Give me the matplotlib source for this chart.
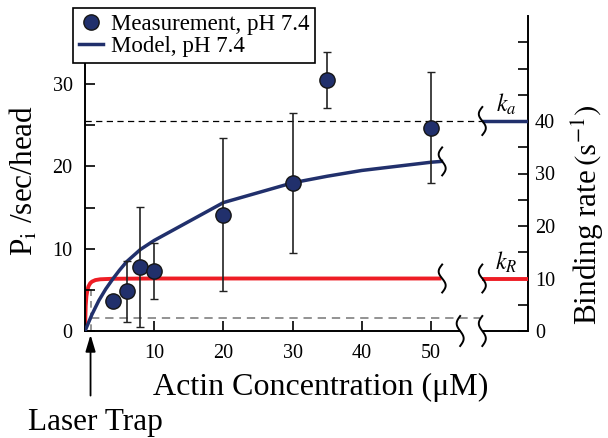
import matplotlib
matplotlib.use('Agg')
import matplotlib.pyplot as plt
import numpy as np
from matplotlib.transforms import IdentityTransform
from matplotlib.lines import Line2D

plt.rcParams['font.family'] = ['Liberation Serif', 'DejaVu Serif']
plt.rcParams['mathtext.fontset'] = 'stix'

# ---------------- data ----------------
actin_meas = [4, 6, 8, 10, 20, 30, 35, 50]
rate_meas = [3.6, 4.8, 7.8, 7.3, 14.1, 18.0, 30.5, 24.7]
rate_err = [0.0, 3.7, 7.3, 3.4, 9.3, 8.5, 3.4, 6.7]

actin_model = [0, 1, 2, 3, 4, 5, 6, 8, 10, 20, 30, 35, 40, 50, 51.5]
rate_model = [0, 2.0, 3.7, 5.1, 6.3, 7.4, 8.4, 9.9, 11.0, 15.6, 18.0, 18.8, 19.5, 20.5, 20.6]

actin_kr = [0, 0.05, 0.1, 0.2, 0.35, 0.5, 0.75, 1.0, 1.5, 2.2, 4, 10, 51.5]
binding_kr = [0, 2.5, 4.8, 6.6, 7.8, 8.5, 9.1, 9.4, 9.7, 9.85, 9.95, 10, 10]

k_a = 40
k_R = 10
trap_actin = 0.9
trap_rate = 2.5
trap_top = 9.0

x_ticks = [10, 20, 30, 40, 50]
left_ticks = [0, 10, 20, 30]
right_ticks = [0, 10, 20, 30, 40]

navy = '#21306c'
red = '#ee1d25'

# ---------------- figure ----------------
fig = plt.figure(figsize=(6.08, 4.38), dpi=100)
ax = fig.add_axes([85 / 608, 107 / 438, 443 / 608, 315 / 438])
ax2 = ax.twinx()
ax.set_zorder(2)
ax.patch.set_visible(False)

ax.set_xlim(0, 64)
ax.set_ylim(0, 38.26)
ax2.set_ylim(0, 60)

x_break1, x_break2, x_break3 = 51.6, 54.2, 57.4

# right-axis (binding rate) curves
ax2.plot(actin_kr, binding_kr, color=red, lw=2.8, solid_capstyle='butt', zorder=3)
ax2.plot([x_break3, 64], [k_R, k_R], color=red, lw=2.8, solid_capstyle='butt', zorder=3)
ax2.plot([x_break3, 64], [k_a, k_a], color=navy, lw=2.5, solid_capstyle='butt', zorder=3)
ax2.plot([0, x_break3], [k_a, k_a], color='k', lw=0.9, dashes=(5, 3.5), zorder=2)
ax2.plot([trap_actin, x_break3 - 0.3], [trap_rate, trap_rate], color='#808080', lw=1.2,
         dashes=(5, 3.5), zorder=2)
ax2.plot([trap_actin, trap_actin], [0, trap_top], color='#808080', lw=1.2,
         dashes=(4, 3), zorder=2)

# left-axis curves
ax.plot(actin_model, rate_model, color=navy, lw=2.5, zorder=3)
ax.errorbar(actin_meas, rate_meas, yerr=rate_err, fmt='o', ms=11, mfc=navy, mec='#151515',
            mew=1.0, ecolor='#222222', elinewidth=1.2, capsize=3, capthick=1.2, zorder=4)

# spines
for s in ['top', 'right']:
    ax.spines[s].set_visible(False)
for s in ['top', 'left', 'bottom']:
    ax2.spines[s].set_visible(False)
for sp in [ax.spines['left'], ax.spines['bottom'], ax2.spines['right']]:
    sp.set_linewidth(1.4)
ax.spines['bottom'].set_bounds(0, x_break2)
ax.plot([x_break3, 64], [0, 0], color='k', lw=1.4, clip_on=False, zorder=5,
        solid_capstyle='butt')

# ticks
ax.set_xticks(x_ticks)
ax.set_xticklabels([str(v) for v in x_ticks])
ax.set_yticks(left_ticks)
ax.set_yticks([5, 15, 25, 35], minor=True)
ax.set_xticks([], minor=True)
ax.tick_params(axis='x', direction='in', length=7, width=1.2, pad=9, labelsize=14.5)
ax.tick_params(axis='y', which='both', direction='in', length=7, width=1.2, pad=9,
               labelsize=14.5)
ax2.set_yticks(right_ticks)
ax2.set_yticks([5, 15, 25, 35, 45, 50, 55], minor=True)
ax2.tick_params(axis='y', which='both', direction='in', length=7, width=1.2, pad=5,
                labelsize=14.5)

# labels
fig.text(321 / 608, 1 - 395 / 438, 'Actin Concentration (μM)', ha='center',
         va='baseline', fontsize=23)
fig.text(33 / 608, 1 - 180 / 438, r'P$_{\rm i}$ /sec/head', rotation=90,
         rotation_mode='anchor', ha='center', va='baseline', fontsize=22.5)
fig.text(598 / 608, 1 - 215 / 438, r'Binding rate$\,(\mathrm{s}^{-1})$', rotation=90,
         rotation_mode='anchor', ha='center', va='baseline', fontsize=22.5)

ax2.text(60.8, 40.7, r'$k_a$', ha='center', va='bottom', fontsize=17)
ax2.text(60.8, 10.7, r'$k_R$', ha='center', va='bottom', fontsize=17)

# laser trap arrow
ax.annotate('', xy=(trap_actin - 0.1, -0.012), xycoords=ax.get_xaxis_transform(),
            xytext=(trap_actin - 0.1, -0.205), textcoords=ax.get_xaxis_transform(),
            arrowprops=dict(arrowstyle='-|>,head_length=1.0,head_width=0.3', color='k',
                            lw=1.3, shrinkA=0, shrinkB=0),
            annotation_clip=False)
fig.text(95 / 608, 1 - 430 / 438, 'Laser Trap', ha='center', va='baseline', fontsize=22.5)

# legend
h_meas = Line2D([], [], marker='o', ls='none', ms=11, mfc=navy, mec='#151515', mew=1.0)
h_model = Line2D([], [], color=navy, lw=2.5)
leg = fig.legend([h_meas, h_model], ['Measurement, pH 7.4', 'Model, pH 7.4'],
                 loc='upper left', bbox_to_anchor=(73 / 608, 1 - 8 / 438),
                 bbox_transform=fig.transFigure, fontsize=16.5, frameon=True,
                 fancybox=False, framealpha=1, edgecolor='k', borderpad=0.25,
                 handlelength=1.05, handletextpad=0.35, labelspacing=0.05,
                 borderaxespad=0)
leg.get_frame().set_linewidth(1.2)


# axis-break squiggles
def squiggle(axis, x, y, h=14, a=3.5):
    t = np.linspace(0, 1, 80)
    X0, Y0 = axis.transData.transform((x, y))
    xs = X0 + a * np.sin(2 * np.pi * t)
    ys = Y0 - h + 2 * h * t
    fig.add_artist(Line2D(xs, ys, transform=IdentityTransform(), color='k', lw=1.4,
                          zorder=6))


squiggle(ax, x_break1, rate_model[-1])
squiggle(ax2, x_break1, binding_kr[-1])
squiggle(ax2, x_break3, k_R)
squiggle(ax2, x_break3, k_a)
squiggle(ax, x_break2, 0, h=15)
squiggle(ax, x_break3, 0, h=15)

fig.savefig('out.png', dpi=100)
